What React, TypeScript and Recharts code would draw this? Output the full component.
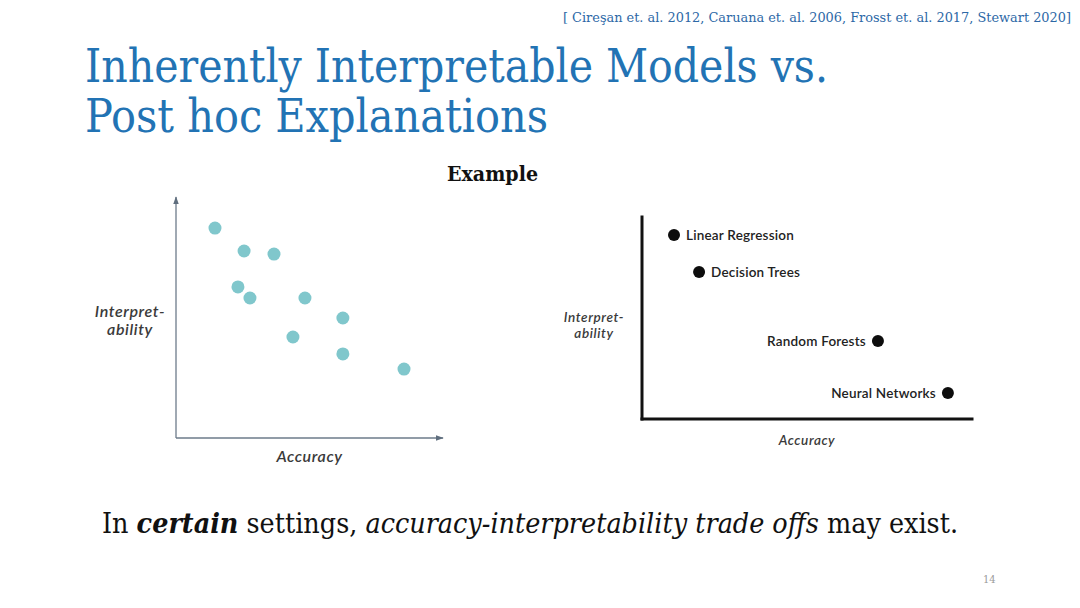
import React from 'react';
import { ScatterChart, Scatter, XAxis, YAxis, Label, LabelList } from 'recharts';

// Left chart: unlabeled example points
const leftAccuracy = [14.6, 25.5, 36.7, 23.2, 27.7, 48.3, 62.5, 43.8, 62.5, 85.4];
const leftInterpretability = [87.1, 77.6, 76.3, 62.7, 58.1, 58.1, 49.8, 41.9, 34.9, 28.6];

// Right chart: named model families
const models = ['Linear Regression', 'Decision Trees', 'Random Forests', 'Neural Networks'];
const modelAccuracy = [9.7, 17.3, 71.5, 92.7];
const modelInterpretability = [91.1, 72.8, 38.6, 12.9];

const xLabel = 'Accuracy';
const yLabelLines = ['Interpret-', 'ability'];

const leftData = leftAccuracy.map((x, i) => ({ x, y: leftInterpretability[i] }));
const rightData = models.map((name, i) => ({ name, x: modelAccuracy[i], y: modelInterpretability[i] }));

const labelFont = 'Lato, "Noto Sans", sans-serif';
const serif = '"DejaVu Serif Condensed", "DejaVu Serif", serif';
const serifStyle = { fontStretch: 'condensed' as const };

const makeYLabel = (dx: number, dy1: number, dy2: number, size: number) => (props: any) => {
  const vb = props.viewBox || {};
  const cx = (vb.x || 0) + (vb.width || 0) + dx;
  const cy = (vb.y || 0) + (vb.height || 0) / 2;
  const common = { textAnchor: 'middle' as const, dominantBaseline: 'central' as const, fontFamily: labelFont, fontStyle: 'italic', fontWeight: 600, fontSize: size, fill: '#3a3a3a', letterSpacing: 0.6 };
  return (
    <g>
      <text x={cx} y={cy + dy1} {...common}>{yLabelLines[0]}</text>
      <text x={cx} y={cy + dy2} {...common}>{yLabelLines[1]}</text>
    </g>
  );
};

const makeXLabel = (dy: number, size: number) => (props: any) => {
  const vb = props.viewBox || {};
  const cx = (vb.x || 0) + (vb.width || 0) / 2;
  const cy = (vb.y || 0) + dy;
  return (
    <text x={cx} y={cy} textAnchor="middle" dominantBaseline="central" fontFamily={labelFont} fontStyle="italic" fontWeight={600} fontSize={size} fill="#3a3a3a" letterSpacing={0.6}>{xLabel}</text>
  );
};

const modelLabel = (props: any) => {
  const { x, y, width, height, value, index } = props;
  const cx = x + (width || 0) / 2;
  const cy = y + (height || 0) / 2;
  const right = modelAccuracy[index] < 50;
  return (
    <text x={right ? cx + 12 : cx - 12} y={cy} textAnchor={right ? 'start' : 'end'} dominantBaseline="central" fontFamily={labelFont} fontWeight={600} fontSize={13.5} fill="#222" letterSpacing={0.2}>{value}</text>
  );
};

export default function App() {
  return (
    <div style={{ position: 'absolute', left: 0, top: 0, width: 1080, height: 608, background: '#fff', overflow: 'hidden' }}>
      <svg width={0} height={0} style={{ position: 'absolute' }}>
        <defs>
          <marker id="arrowHead" viewBox="0 0 10 10" refX="9" refY="5" markerWidth="8" markerHeight="8" markerUnits="userSpaceOnUse" orient="auto-start-reverse">
            <path d="M0,1.5 L10,5 L0,8.5 z" fill="#5f6e7e" />
          </marker>
        </defs>
      </svg>

      <svg width={1080} height={608} style={{ position: 'absolute', left: 0, top: 0 }}>
        <text x={563} y={22} fontFamily={serif} style={serifStyle} fontSize={13.5} fill="#2d68a6" textLength={508} lengthAdjust="spacingAndGlyphs">[ Cireşan et. al. 2012, Caruana et. al. 2006, Frosst et. al.  2017, Stewart 2020]</text>
        <text x={85} y={82} fontFamily={serif} style={serifStyle} fontSize={46} fill="#2273b4" textLength={743} lengthAdjust="spacingAndGlyphs">Inherently Interpretable Models vs.</text>
        <text x={85} y={132} fontFamily={serif} style={serifStyle} fontSize={46} fill="#2273b4" textLength={463} lengthAdjust="spacingAndGlyphs">Post hoc Explanations</text>
        <text x={447} y={181} fontFamily={serif} style={serifStyle} fontSize={21} fontWeight="bold" fill="#111" textLength={91} lengthAdjust="spacingAndGlyphs">Example</text>
        <text x={102} y={533} fontFamily={serif} style={serifStyle} fontSize={27} fill="#111" textLength={856} lengthAdjust="spacingAndGlyphs">
          <tspan>In </tspan>
          <tspan fontWeight="bold" fontStyle="italic">certain</tspan>
          <tspan> settings, </tspan>
          <tspan fontStyle="italic">accuracy-interpretability trade offs</tspan>
          <tspan> may exist.</tspan>
        </text>
        <text x={983} y={583} fontFamily={serif} style={serifStyle} fontSize={11} fill="#9a9a9a">14</text>
      </svg>

      <div style={{ position: 'absolute', left: 80, top: 190, width: 380, height: 280 }}>
        <ScatterChart width={380} height={280} margin={{ left: 36, top: 7, right: 17, bottom: 2 }}>
          <XAxis type="number" dataKey="x" domain={[0, 100]} tick={false} tickLine={false} height={30}
            axisLine={{ stroke: '#6d7b8a', strokeWidth: 1.3, markerEnd: 'url(#arrowHead)' }}>
            <Label content={makeXLabel(17, 16)} />
          </XAxis>
          <YAxis type="number" dataKey="y" domain={[0, 100]} tick={false} tickLine={false} width={60}
            axisLine={{ stroke: '#6d7b8a', strokeWidth: 1.3, markerStart: 'url(#arrowHead)' }}>
            <Label content={makeYLabel(-46, -7, 11, 16)} />
          </YAxis>
          <Scatter data={leftData} isAnimationActive={false}
            shape={(p: any) => <circle cx={p.cx} cy={p.cy} r={6.5} fill="#80c7cc" />} />
        </ScatterChart>
      </div>

      <div style={{ position: 'absolute', left: 550, top: 200, width: 430, height: 260 }}>
        <ScatterChart width={430} height={260} margin={{ left: 32, top: 17, right: 8, bottom: 11 }}>
          <XAxis type="number" dataKey="x" domain={[0, 100]} tick={false} tickLine={false} height={30}
            axisLine={{ stroke: '#111', strokeWidth: 3, strokeLinecap: 'square' }}>
            <Label content={makeXLabel(21, 13.5)} />
          </XAxis>
          <YAxis type="number" dataKey="y" domain={[0, 100]} tick={false} tickLine={false} width={60}
            axisLine={{ stroke: '#111', strokeWidth: 3, strokeLinecap: 'square' }}>
            <Label content={makeYLabel(-48, -1, 15, 13.5)} />
          </YAxis>
          <Scatter data={rightData} isAnimationActive={false}
            shape={(p: any) => <circle cx={p.cx} cy={p.cy} r={6} fill="#0d0d0d" />}>
            <LabelList dataKey="name" content={modelLabel} />
          </Scatter>
        </ScatterChart>
      </div>
    </div>
  );
}
